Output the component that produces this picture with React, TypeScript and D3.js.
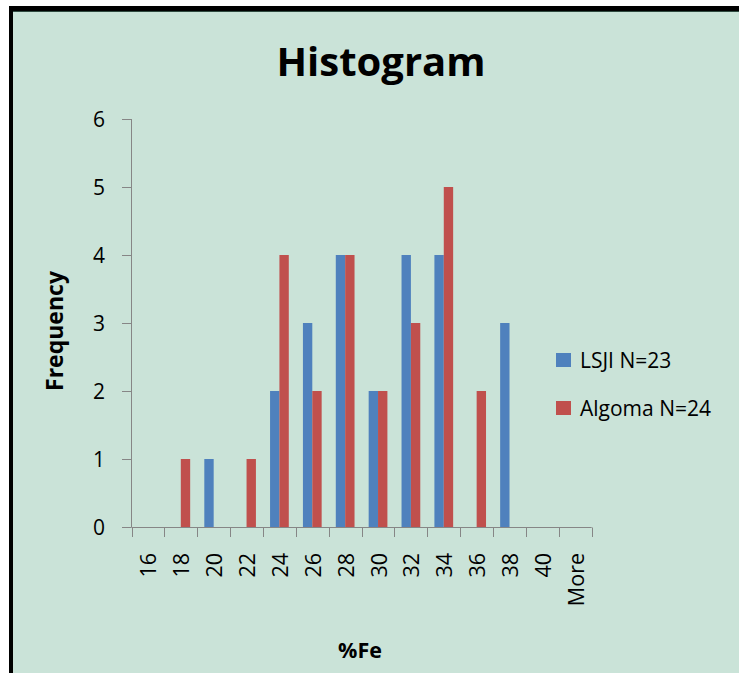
import React from "react";
import * as d3 from "d3";

const categories = ["16", "18", "20", "22", "24", "26", "28", "30", "32", "34", "36", "38", "40", "More"];
const lsjiValues = [0, 0, 1, 0, 2, 3, 4, 2, 4, 4, 0, 3, 0, 0];
const algomaValues = [0, 1, 0, 1, 4, 2, 4, 2, 3, 5, 2, 0, 0, 0];
const yTicks = [0, 1, 2, 3, 4, 5, 6];
const seriesNames = ["LSJI N=23", "Algoma N=24"];
const seriesColors = ["#4f81bd", "#c0504d"];

const W = 739;
const H = 673;
const FONT = "'Open Sans', sans-serif";

export default function App() {
  const x = d3.scaleBand<string>().domain(categories).range([131.5, 591.7]).padding(0);
  const y = d3.scaleLinear().domain([0, 6]).range([527, 119]);
  const bw = x.bandwidth();
  const barW = bw * 0.285;
  const series = [lsjiValues, algomaValues];

  return (
    <svg width={W} height={H} style={{ position: "absolute", left: 0, top: 0 }} fontFamily={FONT}>
      <rect x={0} y={0} width={W} height={H} fill="#ffffff" />
      <rect x={9} y={6} width={W} height={H} fill="#000000" />
      <rect x={13} y={11} width={W} height={H} fill="#cae3d8" />
      <line x1={13} x2={W} y1={11.5} y2={11.5} stroke="#2f4a40" strokeWidth={1} />

      <text x={381} y={76} textAnchor="middle" fontWeight="bold" fontSize={40} fill="#000">Histogram</text>

      {/* bars */}
      {series.map((vals, si) =>
        vals.map((v, i) => {
          const c = x(categories[i])! + bw / 2;
          const bx = si === 0 ? c - barW : c;
          return v > 0 ? (
            <rect key={`${si}-${i}`} x={bx} y={y(v)} width={barW} height={y(0) - y(v)} fill={seriesColors[si]} />
          ) : null;
        })
      )}

      {/* y axis */}
      <line x1={131.5} x2={131.5} y1={y(6)} y2={y(0)} stroke="#868686" strokeWidth={1} />
      {yTicks.map((t) => (
        <g key={t}>
          <line x1={122} x2={131.5} y1={Math.round(y(t)) + 0.5} y2={Math.round(y(t)) + 0.5} stroke="#868686" />
          <text x={105} y={y(t)} textAnchor="end" dominantBaseline="central" fontSize={21} fill="#000">{t}</text>
        </g>
      ))}

      {/* x axis */}
      <line x1={131.5} x2={591.7} y1={527.5} y2={527.5} stroke="#868686" strokeWidth={1} />
      {[...categories.map((c) => x(c)!), 591.7].map((px, i) => (
        <line key={i} x1={Math.round(px) + 0.5} x2={Math.round(px) + 0.5} y1={527.5} y2={537} stroke="#868686" />
      ))}
      {categories.map((c) => {
        const cx = x(c)! + bw / 2;
        return (
          <text key={c} transform={`translate(${cx},553) rotate(-90)`} textAnchor="end" dominantBaseline="central" fontSize={21.5} fill="#000">{c}</text>
        );
      })}

      <text transform={`translate(63,331) rotate(-90)`} textAnchor="middle" fontWeight="bold" fontSize={23} fill="#000">Frequency</text>
      <text x={360} y={658} textAnchor="middle" fontWeight="bold" fontSize={21.5} fill="#000">%Fe</text>

      {/* legend */}
      {seriesNames.map((n, i) => (
        <g key={n}>
          <rect x={556} y={353 + i * 48} width={15} height={14} fill={seriesColors[i]} />
          <text x={580} y={368 + i * 48} fontSize={21} fill="#000">{n}</text>
        </g>
      ))}
    </svg>
  );
}
